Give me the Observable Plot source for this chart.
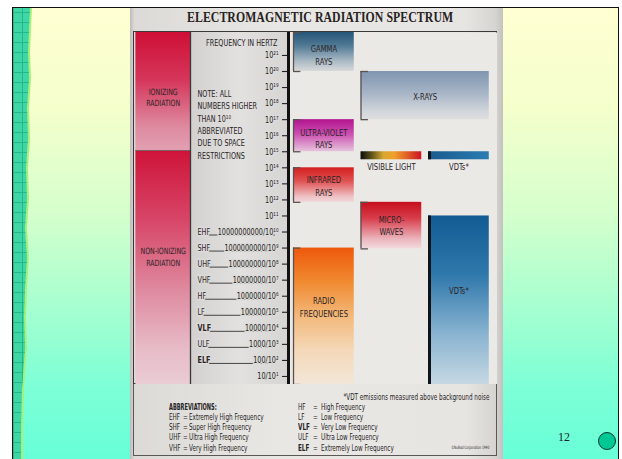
<!DOCTYPE html>
<html><head><meta charset="utf-8">
<script src="https://cdn.jsdelivr.net/npm/d3@7"></script>
<script src="https://cdn.jsdelivr.net/npm/@observablehq/plot@0.6"></script>
<style>
body{margin:0;width:622px;height:459px;overflow:hidden;background:#fff;position:relative;}
.narrow{font-family:'DejaVu Sans Condensed','DejaVu Sans',sans-serif;}
#slide{position:absolute;left:12px;top:7px;width:605px;height:460px;border:1.6px solid #111;border-bottom:none;
 background:linear-gradient(180deg,#ffffd2 0%,#f4ffcc 22%,#d4ffcc 45%,#a4ffd0 66%,#7effd6 82%,#64ffd8 100%);}
#strip2{position:absolute;left:13px;top:8px;width:19px;height:451px;background:#a6f07a;
 clip-path:polygon(0 0,19px 0,18px 20px,17px 45px,18px 70px,16px 100px,17px 130px,15px 160px,16px 190px,14px 220px,16px 250px,14px 280px,13px 310px,14px 340px,11px 380px,10px 420px,10px 451px,0 451px);}
#strip{position:absolute;left:13px;top:8px;width:18px;height:451px;background-color:#3fd6a6;
 background-image:linear-gradient(#22b88c 1px,transparent 1px),linear-gradient(90deg,#22b88c 1px,transparent 1px);
 background-size:9px 10px;background-position:0 4px;
 clip-path:polygon(0 0,17px 0,16px 20px,15px 45px,16px 70px,14px 100px,15px 130px,13px 160px,14px 190px,12px 220px,14px 250px,12px 280px,11px 310px,12px 340px,9px 380px,8px 420px,8px 451px,0 451px);}
#poster{position:absolute;left:130px;top:8px;width:373px;height:451px;
 background:linear-gradient(90deg,#bdbbb9 0,#dcdad7 1.2%,#e9e7e4 40%,#e7e5e2 90%,#d6d4d1 98%,#c4c2c0 100%);}
#title{position:absolute;left:130px;top:8px;width:380px;text-align:center;line-height:18px;}
#title span{display:inline-block;font:bold 15.5px 'Liberation Serif','Times New Roman',serif;color:#262222;transform:scaleX(0.76);letter-spacing:0.1px;}
#box1{position:absolute;left:133px;top:31px;width:362px;height:351px;border:1.6px solid #3a3838;}
#box2{position:absolute;left:133px;top:384px;width:362px;height:71px;border:1.4px solid #5a5856;border-top:none;}
#chart{position:absolute;left:134px;top:32px;width:363px;height:352px;}
.t{position:absolute;white-space:nowrap;color:#262424;font-size:9px;line-height:10px;transform:scaleX(0.7);transform-origin:0 50%;}
.t.r{transform-origin:100% 50%;}
#pagenum{position:absolute;left:558px;top:430px;font:12px 'Liberation Serif','Times New Roman',serif;color:#222;}
#dot{position:absolute;left:598px;top:432px;width:18px;height:18px;border-radius:50%;background:#00c894;border:1px solid #0b3a2e;box-sizing:border-box;}
</style></head><body>
<div id="slide"></div>
<div id="strip2"></div>
<div id="strip"></div>
<div id="poster"></div>
<div id="title"><span>ELECTROMAGNETIC RADIATION SPECTRUM</span></div>
<div id="box1"></div>
<div id="box2"></div>
<div id="chart"></div>
<div id="abbr"></div>
<div id="pagenum">12</div>
<div id="dot"></div>
<script>
// ---------- data (frequencies as log10 of Hz) ----------
const bandNames   = ["GAMMA\nRAYS", "X-RAYS", "ULTRA-VIOLET\nRAYS", "VISIBLE LIGHT", "VDTs*", "INFRARED\nRAYS", "MICRO-\nWAVES", "RADIO\nFREQUENCIES", "VDTs*"];
const bandTop     = [22.43, 20, 17, 15, 15, 14, 11.85, 9, 11];
const bandBottom  = [20, 17, 15, 14.5, 14.5, 11.85, 8.95, 0.5, 0.5];
const bandLabelAt = [21.06, 18.5, 15.86, 14.08, 14.08, 12.9, 10.44, 5.36, 6.36];
const bandColumn  = [0, 1, 0, 1, 2, 0, 1, 0, 2];
const bandSpan    = [1, 2, 1, 1, 1, 1, 1, 1, 1];
const bandThin    = [false, false, false, true, true, false, false, false, false];
const bandBracket = [true, true, true, false, false, true, true, true, false];

const regionNames   = ["IONIZING\nRADIATION", "NON-IONIZING\nRADIATION"];
const regionTop     = [22.43, 15.08];
const regionBottom  = [15.08, 0.5];
const regionLabelAt = [18.43, 8.49];

const tickExponents = [21, 20, 19, 18, 17, 16, 15, 14, 13, 12, 11, 10, 9, 8, 7, 6, 5, 4, 3, 2, 1];
const tickLabels = ["10²¹","10²⁰","10¹⁹","10¹⁸","10¹⁷","10¹⁶","10¹⁵","10¹⁴","10¹³","10¹²","10¹¹",
  "10000000000/10¹⁰","1000000000/10⁹","100000000/10⁸","10000000/10⁷","1000000/10⁶","100000/10⁵","10000/10⁴","1000/10³","100/10²","10/10¹"];

const abbrNames = ["EHF", "SHF", "UHF", "VHF", "HF", "LF", "VLF", "ULF", "ELF"];
const abbrExp   = [10, 9, 8, 7, 6, 5, 4, 3, 2];
const abbrBold  = [false, false, false, false, false, false, true, false, true];
const abbrMeaning = ["Extremely High Frequency", "Super High Frequency", "Ultra High Frequency", "Very High Frequency",
  "High Frequency", "Low Frequency", "Very Low Frequency", "Ultra Low Frequency", "Extremely Low Frequency"];

const noteText = "NOTE: ALL\nNUMBERS HIGHER\nTHAN 10¹⁰\nABBREVIATED\nDUE TO SPACE\nRESTRICTIONS";
const axisTitle = "FREQUENCY IN HERTZ";
const footNote = "*VDT emissions measured above background noise";
const copyright = "©NuRad Corporation 1990";

// ---------- styles ----------
const NARROW = "'DejaVu Sans Condensed','DejaVu Sans',sans-serif";
const bandGradient = ["gGamma", "gXray", "gUV", "gVis", "gVdtThin", "gIR", "gMW", "gRadio", "gVdt"];
const regionGradient = ["gIon", "gNonIon"];
const PANEL = "#dcdbd9";
const gradients = {
  gGamma:  [["0%","#255577"],["35%","#517a95"],["75%","#abbac5"],["100%","#d8d9da"]],
  gXray:   [["0%","#8095b0"],["45%","#a6b4c6"],["85%","#d3d7dc"],["100%","#dedede"]],
  gUV:     [["0%","#b2148e"],["45%","#cb4db0"],["100%","#e6c4dc"]],
  gIR:     [["0%","#d41e1e"],["40%","#e05252"],["85%","#eec2c6"],["100%","#f1d6d8"]],
  gMW:     [["0%","#c60e1c"],["35%","#d83c4a"],["80%","#ebb6be"],["100%","#f2dadd"]],
  gRadio:  [["0%","#ee580c"],["25%","#f08a30"],["50%","#f3b87a"],["75%","#f4d8b8"],["100%","#f2e6d8"]],
  gVdt:    [["0%","#125b93"],["35%","#2f78ac"],["70%","#88b3d0"],["100%","#c6d8e3"]],
  gIon:    [["0%","#cf0f36"],["40%","#d5355a"],["80%","#de8aa0"],["100%","#e2a0b2"]],
  gNonIon: [["0%","#cf1339"],["30%","#d74668"],["60%","#df8aa0"],["85%","#e7bcc7"],["100%","#eaccd4"]],
  gVis:    [["0%","#0c0c0c"],["18%","#5e5218"],["38%","#d8a830"],["55%","#f0a02a"],["78%","#e05a28"],["100%","#cc1424"]],
  gVdtThin:[["0%","#1a5a8c"],["100%","#2a7cb2"]],
  gPanel:  [["0%","#d2d1cf"],["50%","#e2e1df"],["100%","#d6d5d3"]]
};
const horizontal = new Set(["gVis", "gVdtThin", "gPanel"]);
const TEXT_SQUEEZE = 0.8;

function defsMark() {
  const defs = d3.create("svg:defs");
  for (const [id, stops] of Object.entries(gradients)) {
    const g = defs.append("linearGradient").attr("id", id)
      .attr("x1", 0).attr("y1", 0)
      .attr("x2", horizontal.has(id) ? 1 : 0).attr("y2", horizontal.has(id) ? 0 : 1);
    for (const [o, c] of stops) g.append("stop").attr("offset", o).attr("stop-color", c);
  }
  return defs.node();
}

// ---------- layout (x in column units; column 0 starts at the right of the axis) ----------
const X_MIN = -0.089, X_MAX = 3.022, COLW = 0.9;
const redCol = [-2.335, -1.526];
const labelCol = [-1.526, X_MIN];
const labelLeft = -1.422;
const stub = 0.11;

const bands = bandNames.map((name, i) => ({
  name, top: bandTop[i], bottom: bandBottom[i], labelAt: bandLabelAt[i],
  x1: bandColumn[i], x2: bandColumn[i] + bandSpan[i] - (1 - COLW),
  thin: bandThin[i], bracket: bandBracket[i], fill: `url(#${bandGradient[i]})`
}));
const regions = regionNames.map((name, i) => ({name, top: regionTop[i], bottom: regionBottom[i], labelAt: regionLabelAt[i], fill: `url(#${regionGradient[i]})`}));
const abbrRows = abbrNames.map((name, i) => ({name, exp: abbrExp[i], bold: abbrBold[i]}));
const labelOf = new Map(tickExponents.map((e, i) => [e, tickLabels[i]]));
const brackets = bands.filter(d => d.bracket);
const bigBands = bands.filter(d => !d.thin);
const thinBands = bands.filter(d => d.thin);
const vdtEdges = bands.filter(d => d.name === "VDTs*");

const txt = {fill: "#2a2426", fontFamily: NARROW};

const chart = Plot.plot({
  width: 363, height: 352,
  marginLeft: 153, marginRight: 0, marginTop: 0, marginBottom: 0,
  x: {domain: [X_MIN, X_MAX], axis: null},
  y: {domain: [0.5, 22.43], axis: null, label: null},
  color: {type: "identity"},
  style: {background: "transparent", fontFamily: NARROW, fontSize: "9px", color: "#222"},
  marks: [
    defsMark,
    Plot.frame({fill: "#ebe9e6", stroke: null}),
    // left column: ionizing / non-ionizing
    Plot.rect(regions, {x1: redCol[0], x2: redCol[1], y1: "top", y2: "bottom", fill: "fill"}),
    Plot.ruleY([regionTop[1]], {x1: redCol[0], x2: redCol[1], stroke: "#7a6066", strokeWidth: 1.2}),
    Plot.text(regions, {x: (redCol[0] + redCol[1]) / 2, y: "labelAt", text: "name", lineHeight: 1.3, fontSize: 8.7, ...txt}),
    // label panel
    Plot.rect([0], {x1: labelCol[0], x2: labelCol[1], fill: "url(#gPanel)"}),
    Plot.ruleX([labelCol[0]], {stroke: "#3a3838", strokeWidth: 1.3}),
    Plot.text([axisTitle], {x: X_MIN, y: 21.75, dx: -10, textAnchor: "end", fontSize: 9, ...txt}),
    Plot.text([noteText], {x: labelLeft, y: 16.74, textAnchor: "start", lineAnchor: "middle", lineHeight: 1.37, fontSize: 9, ...txt}),
    Plot.ruleY(abbrRows, {y: "exp", x1: labelLeft + 0.05, x2: -0.27, dy: 3, stroke: "#333", strokeWidth: 0.9}),
    Plot.text(abbrRows.filter(d => !d.bold), {x: labelLeft, y: "exp", text: "name", textAnchor: "start", fontSize: 9, stroke: PANEL, strokeWidth: 3, ...txt}),
    Plot.text(abbrRows.filter(d => d.bold), {x: labelLeft, y: "exp", text: "name", textAnchor: "start", fontSize: 9, fontWeight: "bold", stroke: PANEL, strokeWidth: 3, ...txt}),
    Plot.axisY(tickExponents, {anchor: "left", tickSize: 5, tickPadding: 4, tickFormat: e => labelOf.get(e),
      fontSize: 9, color: "#222", textStroke: PANEL, textStrokeWidth: 3, strokeWidth: 1.1, label: null}),
    // the bands
    Plot.rect(bands, {x1: "x1", x2: "x2", y1: "top", y2: "bottom", fill: "fill"}),
    Plot.ruleX(brackets, {x: "x1", y1: "top", y2: "bottom", stroke: "#5a5250", strokeWidth: 1.3}),
    Plot.ruleY(brackets, {y: "top", x1: "x1", x2: d => d.x1 + stub, stroke: "#5a5250", strokeWidth: 1.3}),
    Plot.ruleY(brackets, {y: "bottom", x1: "x1", x2: d => d.x1 + stub, stroke: "#5a5250", strokeWidth: 1.3}),
    Plot.ruleX(vdtEdges, {x: "x1", y1: "top", y2: "bottom", stroke: "#0e1418", strokeWidth: 3, dx: 1}),
    Plot.text(bigBands, {x: d => (d.x1 + d.x2) / 2, y: "labelAt", text: "name", lineHeight: 1.3, fontSize: 9.5, ...txt}),
    Plot.text(thinBands, {x: d => (d.x1 + d.x2) / 2, y: "labelAt", text: "name", fontSize: 9.5, ...txt}),
    // axis line
    Plot.ruleX([X_MIN], {stroke: "#111", strokeWidth: 3, dx: 1})
  ]
});
// condense the lettering like the poster's narrow typeface
d3.select(chart).selectAll("text").each(function () {
  const t = this.getAttribute("transform");
  if (t) this.setAttribute("transform", `${t} scale(${TEXT_SQUEEZE},1)`);
  else {
    const x = +(this.getAttribute("x") || 0), y = +(this.getAttribute("y") || 0);
    this.removeAttribute("x"); this.removeAttribute("y");
    this.setAttribute("transform", `translate(${x},${y}) scale(${TEXT_SQUEEZE},1)`);
  }
});
document.getElementById("chart").append(chart);

// ---------- bottom abbreviations box ----------
const abbrDiv = document.getElementById("abbr");
function addText(s, left, top, opts = {}) {
  const el = document.createElement("div");
  el.className = "t narrow" + (opts.right ? " r" : "");
  el.textContent = s;
  el.style.top = top + "px";
  if (opts.right) el.style.right = (622 - left) + "px"; else el.style.left = left + "px";
  if (opts.bold) el.style.fontWeight = "bold";
  if (opts.size) el.style.fontSize = opts.size + "px";
  if (opts.squeeze) el.style.transform = `scaleX(${opts.squeeze})`;
  abbrDiv.append(el);
  return el;
}
const rowTops = [401.5, 411.8, 422.1, 432.4, 442.7];
addText(footNote, 489, 391.5, {right: true});
addText("ABBREVIATIONS:", 169, rowTops[0], {bold: true, size: 8.5, squeeze: 0.66});
["EHF", "SHF", "UHF", "VHF"].forEach((a, i) => {
  const k = abbrNames.indexOf(a);
  addText(a, 169, rowTops[i + 1], {bold: abbrBold[k]});
  addText("=", 183, rowTops[i + 1]);
  addText(abbrMeaning[k], 189, rowTops[i + 1]);
});
["HF", "LF", "VLF", "ULF", "ELF"].forEach((a, i) => {
  const k = abbrNames.indexOf(a);
  addText(a, 298, rowTops[i], {bold: abbrBold[k]});
  addText("=", 313, rowTops[i]);
  addText(abbrMeaning[k], 321, rowTops[i]);
});
addText(copyright, 489, 443, {right: true, size: 4.5});
</script>
</body></html>
